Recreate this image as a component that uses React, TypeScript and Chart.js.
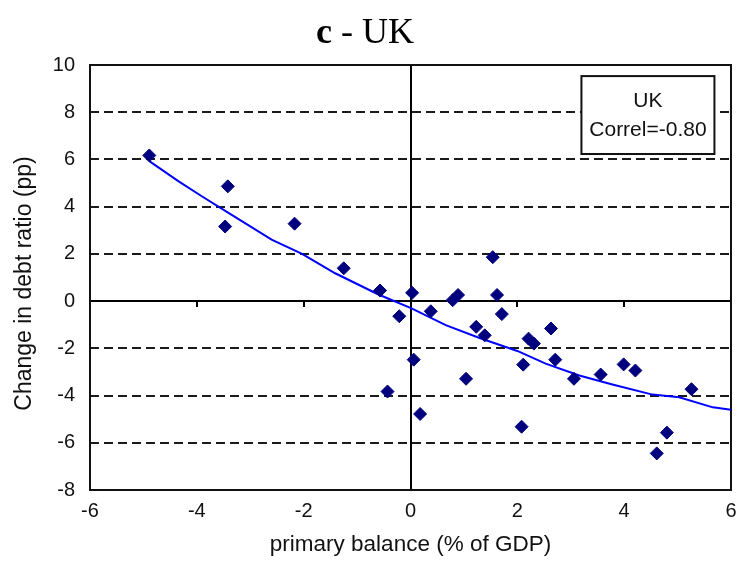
import React, { useEffect, useRef } from 'react';
import { Chart, registerables } from 'chart.js';

Chart.register(...registerables);

// Primary balance (% of GDP) and change in debt ratio (pp), UK
const balanceX = [
  -4.89, -3.42, -3.47, -2.17, -1.25, -0.57, 0.03, -0.21, 0.38, 0.79, 0.89,
  1.54, 1.62, 1.71, 1.23, 1.39, 2.21, 2.31, 2.63, 2.71, 2.11, 0.06, -0.43,
  1.04, 0.18, 2.08, 3.06, 3.56, 3.99, 4.21, 5.26, 4.8, 4.61,
];
const debtChangeY = [
  6.17, 4.86, 3.16, 3.28, 1.39, 0.45, 0.35, -0.64, -0.43, 0.04, 0.26,
  1.86, 0.26, -0.55, -1.09, -1.45, -1.59, -1.8, -1.16, -2.48, -2.69, -2.48, -3.83,
  -3.29, -4.78, -5.32, -3.29, -3.11, -2.68, -2.94, -3.73, -5.57, -6.45,
];

// Fitted trend line
const fitX = [-4.89, -4.34, -3.9, -3.4, -2.6, -2.03, -1.41, -0.6, 0.02, 0.66, 1.28, 2.0, 2.53, 3.16, 3.78, 4.53, 5.03, 5.66, 6.0];
const fitY = [5.93, 5.07, 4.43, 3.73, 2.6, 2.0, 1.18, 0.28, -0.31, -1.02, -1.55, -2.11, -2.65, -3.15, -3.53, -3.96, -4.07, -4.5, -4.6];

const xTicks = [-6, -4, -2, 0, 2, 4, 6];
const yTicks = [-8, -6, -4, -2, 0, 2, 4, 6, 8, 10];

const titleBold = 'c';
const titleRest = ' - UK';
const xAxisTitle = 'primary balance (% of GDP)';
const yAxisTitle = 'Change in debt ratio (pp)';
const boxLines = ['UK', 'Correl=-0.80'];

const SANS = '"Liberation Sans", Arial, sans-serif';
const SERIF = '"Liberation Serif", "Times New Roman", serif';

export default function App() {
  const ref = useRef<HTMLCanvasElement>(null);

  useEffect(() => {
    const canvas = ref.current;
    if (!canvas) return;

    const framePlugin = {
      id: 'frame',
      beforeDatasetsDraw(chart: any) {
        const { ctx, chartArea: a, scales } = chart;
        const xs = scales.x;
        const ys = scales.y;
        const line = (x1: number, y1: number, x2: number, y2: number) => {
          ctx.beginPath();
          ctx.moveTo(x1, y1);
          ctx.lineTo(x2, y2);
          ctx.stroke();
        };
        ctx.save();
        ctx.strokeStyle = '#1a1a1a';
        ctx.lineWidth = 2;
        ctx.setLineDash([9, 5]);
        for (const v of yTicks) {
          if (v === 0 || v === yTicks[0] || v === yTicks[yTicks.length - 1]) continue;
          const py = Math.round(ys.getPixelForValue(v));
          line(a.left, py, a.right, py);
        }
        ctx.setLineDash([]);
        ctx.strokeStyle = '#000';
        ctx.lineWidth = 2;
        const y0 = Math.round(ys.getPixelForValue(0));
        const x0 = Math.round(xs.getPixelForValue(0));
        line(a.left, y0, a.right, y0);
        line(x0, a.top, x0, a.bottom);
        for (const v of xTicks) {
          const px = Math.round(xs.getPixelForValue(v));
          line(px, y0, px, y0 + 6);
        }
        ctx.strokeStyle = '#111';
        ctx.strokeRect(a.left, a.top, a.right - a.left, a.bottom - a.top);
        ctx.restore();
      },
      afterDraw(chart: any) {
        const { ctx, scales, chartArea: a } = chart;
        const xs = scales.x;
        const ys = scales.y;
        ctx.save();
        // info box
        const bl = xs.getPixelForValue(3.2);
        const br = xs.getPixelForValue(5.69);
        const bt = ys.getPixelForValue(9.53);
        const bb = ys.getPixelForValue(6.23);
        ctx.fillStyle = '#fff';
        ctx.fillRect(bl, bt, br - bl, bb - bt);
        ctx.strokeStyle = '#111';
        ctx.lineWidth = 2;
        ctx.strokeRect(bl, bt, br - bl, bb - bt);
        ctx.fillStyle = '#111';
        ctx.font = `21px ${SANS}`;
        ctx.textAlign = 'center';
        ctx.textBaseline = 'middle';
        const cx = (bl + br) / 2;
        ctx.fillText(boxLines[0], cx, bt + 25);
        ctx.fillText(boxLines[1], cx, bt + 54);
        // y axis title
        ctx.save();
        ctx.translate(25, (a.top + a.bottom) / 2 + 6);
        ctx.rotate(-Math.PI / 2);
        ctx.font = `23px ${SANS}`;
        ctx.fillText(yAxisTitle, 0, 0);
        ctx.restore();
        // title
        ctx.textAlign = 'left';
        ctx.textBaseline = 'alphabetic';
        ctx.font = `bold 36px ${SERIF}`;
        const w1 = ctx.measureText(titleBold).width;
        ctx.font = `36px ${SERIF}`;
        const w2 = ctx.measureText(titleRest).width;
        const start = 365 - (w1 + w2) / 2;
        ctx.fillStyle = '#000';
        ctx.font = `bold 36px ${SERIF}`;
        ctx.fillText(titleBold, start, 43);
        ctx.font = `36px ${SERIF}`;
        ctx.fillText(titleRest, start + w1, 43);
        ctx.restore();
      },
    };

    const chart = new Chart(canvas, {
      type: 'scatter',
      data: {
        datasets: [
          {
            type: 'scatter',
            label: 'UK',
            data: balanceX.map((x, i) => ({ x, y: debtChangeY[i] })),
            pointStyle: 'rectRot',
            pointRadius: 6.5,
            pointBackgroundColor: '#00007F',
            pointBorderColor: '#00007F',
            pointBorderWidth: 1,
            order: 1,
          },
          {
            type: 'line',
            label: 'fit',
            data: fitX.map((x, i) => ({ x, y: fitY[i] })),
            borderColor: '#0000FF',
            borderWidth: 2,
            pointRadius: 0,
            fill: false,
            tension: 0,
            order: 2,
          } as any,
        ],
      },
      options: {
        animation: false,
        responsive: false,
        devicePixelRatio: 1,
        layout: { padding: { top: 65, right: 9, left: 0, bottom: 0 } },
        plugins: {
          legend: { display: false },
          tooltip: { enabled: false },
          title: { display: false },
        },
        scales: {
          x: {
            type: 'linear',
            min: -6,
            max: 6,
            afterBuildTicks: (s: any) => {
              s.ticks = xTicks.map((v) => ({ value: v }));
            },
            afterFit: (s: any) => {
              s.height = 73;
              s.paddingLeft = 0;
              s.paddingRight = 0;
            },
            grid: { display: false, drawTicks: false },
            border: { display: false },
            ticks: {
              color: '#111',
              font: { family: SANS, size: 20 },
              padding: 9,
            },
            title: {
              display: true,
              text: xAxisTitle,
              color: '#111',
              font: { family: SANS, size: 22.5 },
              padding: { top: 0, bottom: 5 },
            },
          },
          y: {
            type: 'linear',
            min: -8,
            max: 10,
            afterBuildTicks: (s: any) => {
              s.ticks = yTicks.map((v) => ({ value: v }));
            },
            afterFit: (s: any) => {
              s.width = 90;
              s.paddingTop = 0;
              s.paddingBottom = 0;
            },
            grid: { display: false, drawTicks: false },
            border: { display: false },
            ticks: {
              color: '#111',
              font: { family: SANS, size: 20 },
              padding: 15,
            },
            title: { display: false },
          },
        },
      },
      plugins: [framePlugin],
    });

    return () => chart.destroy();
  }, []);

  return (
    <div style={{ position: 'fixed', left: 0, top: 0, width: 740, height: 563, background: '#fff' }}>
      <canvas ref={ref} width={740} height={563} style={{ width: 740, height: 563, display: 'block' }} />
    </div>
  );
}
